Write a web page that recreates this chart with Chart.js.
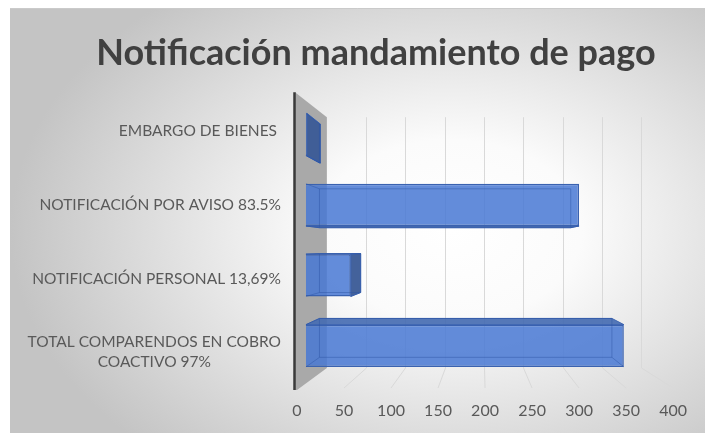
<!DOCTYPE html>
<html>
<head>
<meta charset="utf-8">
<script src="https://cdn.jsdelivr.net/npm/chart.js@4/dist/chart.umd.min.js"></script>
<style>
html,body{margin:0;padding:0;background:#fff;}
#wrap{width:707px;height:433px;position:relative;}
</style>
</head>
<body>
<div id="wrap"><canvas id="c" width="707" height="433"></canvas></div>
<script>
// ---- data ----
const categories = [
  ["EMBARGO DE BIENES "],
  ["NOTIFICACIÓN POR AVISO 83.5%"],
  ["NOTIFICACIÓN PERSONAL 13,69%"],
  ["TOTAL COMPARENDOS EN COBRO", "COACTIVO 97%"]
];
const values = [1, 305, 50, 355];
const xTicks = [0, 50, 100, 150, 200, 250, 300, 350, 400];
const titleText = "Notificación mandamiento de pago";

// ---- background frame ----
const bgPlugin = {
  id: 'bg',
  beforeDraw(chart) {
    const ctx = chart.ctx;
    const L = 10, T = 8, R = 705, B = 433;
    const cx = 450, cy = 230, rx = 440, ry = 300;
    ctx.save();
    ctx.fillStyle = '#ffffff';
    ctx.fillRect(0, 0, chart.width, chart.height);
    ctx.beginPath(); ctx.rect(L, T, R - L, B - T); ctx.clip();
    ctx.translate(cx, cy); ctx.scale(1, ry / rx);
    const g = ctx.createRadialGradient(0, 0, 0, 0, 0, rx);
    g.addColorStop(0, '#ffffff');
    g.addColorStop(0.3, '#fbfbfb');
    g.addColorStop(1, '#c4c4c4');
    ctx.fillStyle = g;
    ctx.fillRect(L - cx, (T - cy) * rx / ry, R - L, (B - T) * rx / ry);
    ctx.restore();
    ctx.save();
    ctx.strokeStyle = '#cacaca'; ctx.lineWidth = 1;
    ctx.beginPath(); ctx.moveTo(L, T + 0.5); ctx.lineTo(R, T + 0.5); ctx.stroke();
    ctx.restore();
  }
};

// ---- 3D walls, floor and bar faces ----
const threeD = {
  id: 'threeD',
  beforeDatasetsDraw(chart) {
    const { ctx, chartArea: a, scales } = chart;
    const xf = scales.x, xb = scales.xBack;
    const backTop = a.top + 18, backBot = a.bottom - 13, floorY = a.bottom + 7, wallTop = a.top - 7;
    ctx.save();
    ctx.strokeStyle = '#d9d9d9'; ctx.lineWidth = 1;
    xTicks.forEach(v => {
      if (v === 0) return;
      const bx = Math.round(xb.getPixelForValue(v)) + 0.5;
      const fx = xf.getPixelForValue(v);
      ctx.beginPath(); ctx.moveTo(bx, backTop); ctx.lineTo(bx, backBot); ctx.lineTo(fx, floorY); ctx.stroke();
    });
    const f0 = xf.getPixelForValue(0), b0 = xb.getPixelForValue(0);
    ctx.fillStyle = '#a9a9a9';
    ctx.beginPath();
    ctx.moveTo(f0 - 2, wallTop); ctx.lineTo(b0, backTop); ctx.lineTo(b0, backBot);
    ctx.lineTo(f0, floorY + 2); ctx.lineTo(f0 - 2, floorY + 2); ctx.closePath(); ctx.fill();
    ctx.strokeStyle = '#3a3a3a'; ctx.lineWidth = 2.5;
    ctx.beginPath(); ctx.moveTo(f0 - 2.5, wallTop); ctx.lineTo(f0 - 2.5, floorY + 2); ctx.stroke();
    ctx.restore();
  },
  afterDatasetsDraw(chart) {
    const { ctx, chartArea: a } = chart;
    const vx = a.left + 178, vy = a.top + 148, k = 0.92;
    const P = (x, y) => [vx + (x - vx) * k, vy + (y - vy) * k];
    ctx.save();
    ctx.lineWidth = 1;
    chart.getDatasetMeta(0).data.forEach(bar => {
      const { x, y, base, height } = bar.getProps(['x', 'y', 'base', 'height'], true);
      const L = base, R = x, T = y - height / 2, B = y + height / 2;
      const [Lb, Tb] = P(L, T), [Rb, Bb] = P(R, B);
      const poly = (pts, fill) => {
        ctx.beginPath(); ctx.moveTo(pts[0][0], pts[0][1]);
        for (let i = 1; i < pts.length; i++) ctx.lineTo(pts[i][0], pts[i][1]);
        ctx.closePath(); ctx.fillStyle = fill; ctx.fill();
        ctx.strokeStyle = '#3a62b0'; ctx.stroke();
      };
      if (T > vy) poly([[L, T], [R, T], [Rb, Tb], [Lb, Tb]], 'rgba(70,108,178,0.92)');
      if (B < vy) poly([[L, B], [R, B], [Rb, Bb], [Lb, Bb]], 'rgba(60,95,165,0.92)');
      if (R < vx) poly([[R, T], [Rb, Tb], [Rb, Bb], [R, B]], 'rgba(58,90,150,0.95)');
      ctx.strokeStyle = 'rgba(45,85,165,0.45)';
      ctx.beginPath(); ctx.rect(Lb, Tb, Rb - Lb, Bb - Tb); ctx.stroke();
      ctx.beginPath();
      ctx.moveTo(L, T); ctx.lineTo(Lb, Tb); ctx.moveTo(L, B); ctx.lineTo(Lb, Bb);
      ctx.moveTo(R, B); ctx.lineTo(Rb, Bb); ctx.stroke();
    });
    ctx.restore();
  }
};

// ---- category labels (right-aligned blocks, centred lines) ----
const labelPlugin = {
  id: 'ylabels',
  afterDraw(chart) {
    const { ctx, chartArea: a, scales: { y } } = chart;
    const anchor = a.top + 105;
    ctx.save();
    ctx.font = '15.5px Lato';
    ctx.fillStyle = '#595959';
    ctx.textBaseline = 'middle';
    ctx.textAlign = 'center';
    const right = a.left - 16;
    categories.forEach((lines, i) => {
      const yc = y.getPixelForValue(i);
      const ly = anchor + (yc - anchor) * 1.047;
      const mw = Math.max(...lines.map(s => ctx.measureText(s).width));
      const cx = right - mw / 2;
      lines.forEach((s, j) => ctx.fillText(s, cx, ly + (j - (lines.length - 1) / 2) * 20));
    });
    ctx.restore();
  }
};

new Chart(document.getElementById('c'), {
  type: 'bar',
  data: {
    labels: categories,
    datasets: [{
      data: values,
      xAxisID: 'xBar',
      yAxisID: 'y',
      backgroundColor: 'rgba(72,120,212,0.85)',
      borderColor: '#3a62b0',
      borderWidth: 1.5,
      barPercentage: 0.6,
      categoryPercentage: 1
    }]
  },
  options: {
    indexAxis: 'y',
    responsive: false,
    animation: false,
    devicePixelRatio: 1,
    layout: { padding: { top: 8, left: 77, right: 32, bottom: 12 } },
    plugins: {
      legend: { display: false },
      tooltip: { enabled: false },
      title: {
        display: true,
        text: titleText,
        color: '#404040',
        font: { family: 'Lato', size: 36, weight: 'bold' },
        padding: { top: 24, bottom: 24 }
      }
    },
    scales: {
      x: {
        type: 'linear', position: 'bottom', min: 0, max: 400,
        afterBuildTicks: s => { s.ticks = xTicks.map(v => ({ value: v })); },
        ticks: { color: '#595959', font: { family: 'Lato', size: 16 }, padding: 20, maxRotation: 0, autoSkip: false },
        grid: { display: false, drawTicks: false },
        border: { display: false },
        afterFit: s => { s.height = 40; }
      },
      xBar: { type: 'linear', position: 'bottom', display: false, min: -10, max: 410, afterFit: s => { s.height = 0; } },
      xBack: { type: 'linear', position: 'bottom', display: false, min: -38, max: 440.5, afterFit: s => { s.height = 0; } },
      y: {
        type: 'category', position: 'left',
        ticks: { display: false },
        grid: { display: false, drawTicks: false },
        border: { display: false },
        afterFit: s => { s.width = 220; }
      }
    }
  },
  plugins: [bgPlugin, threeD, labelPlugin]
});
</script>
</body>
</html>
